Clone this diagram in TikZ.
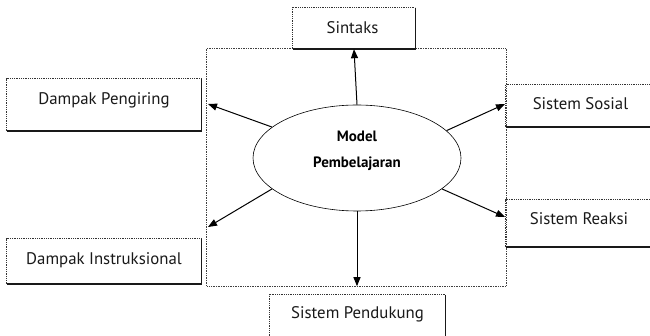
\documentclass[tikz,border=0pt]{standalone}
\usepackage{fontspec}
\setmainfont{PT Sans}
\usetikzlibrary{arrows.meta,shapes.geometric}
\begin{document}
\begin{tikzpicture}[x=1pt,y=-1pt,
  labelbox/.style={rectangle,inner sep=0pt},
  lbl/.style={inner sep=0pt,font=\fontsize{16.8}{20}\selectfont,text=black!90},
  dotedge/.style={densely dotted,line width=0.8pt,black!80},
  solidedge/.style={line width=1.4pt,black!90},
  conn/.style={line width=1pt,-{Triangle[length=9pt,width=7pt]}},
]
\clip (0,0) rectangle (650,336);

% outer dotted frame
\node[rectangle,inner sep=0pt,minimum width=299pt,minimum height=237pt] (frame) at (356.5,167.5) {};
\draw[densely dotted,line width=0.7pt,black!75] (frame.north west) rectangle (frame.south east);

% central ellipse
\node[ellipse,draw,line width=0.6pt,minimum width=208pt,minimum height=106pt,inner sep=0pt,
      label={[inner sep=0pt,yshift=7pt,align=center,font=\bfseries\fontsize{15}{26}\selectfont]center:Model\\Pembelajaran}]
      (ell) at (357,158) {};

% surrounding components
\node[labelbox,minimum width=122pt,minimum height=41pt,
      label={[lbl,xshift=-1.5pt,yshift=0.5pt]center:Sintaks}] (sintaks) at (354,28.5) {};
\node[labelbox,minimum width=194pt,minimum height=52pt,
      label={[lbl,yshift=4.5pt]center:Dampak Pengiring}] (pengiring) at (104,105) {};
\node[labelbox,minimum width=194pt,minimum height=45pt,
      label={[lbl,yshift=1.5pt]center:Dampak Instruksional}] (instruksional) at (104,261.5) {};
\node[labelbox,minimum width=154pt,minimum height=42pt,
      label={[lbl,xshift=-2.5pt,yshift=2.5pt]center:Sistem Sosial}] (sosial) at (583,106) {};
\node[labelbox,minimum width=154pt,minimum height=47pt,
      label={[lbl,xshift=-4pt,yshift=5pt]center:Sistem Reaksi}] (reaksi) at (583,223.5) {};
\node[labelbox,minimum width=175pt,minimum height=50pt,
      label={[lbl,yshift=6pt]center:Sistem Pendukung}] (pendukung) at (357.5,320) {};

% box borders: dotted top/left, solid shadow bottom/right
\foreach \b in {sintaks,pengiring,instruksional,sosial,reaksi,pendukung}{
  \draw[dotedge] (\b.south west) |- (\b.north east);
  \draw[solidedge] (\b.north east) |- (\b.south west);
}

% arrow tips on the frame
\coordinate (tipNW) at (208,104);
\coordinate (tipNE) at (505,104);
\coordinate (tipSW) at (208,227);
\coordinate (tipSE) at (505,217);
\coordinate (tipS) at (ell.south |- frame.south);

\draw[conn] (ell.north) -- (sintaks.south);
\draw[conn] (ell.south) -- (tipS);
\draw[conn] (ell.160) -- (tipNW);
\draw[conn] (ell.17.6) -- (tipNE);
\draw[conn] (ell.200) -- (tipSW);
\draw[conn] (ell.340) -- (tipSE);
\end{tikzpicture}
\end{document}
